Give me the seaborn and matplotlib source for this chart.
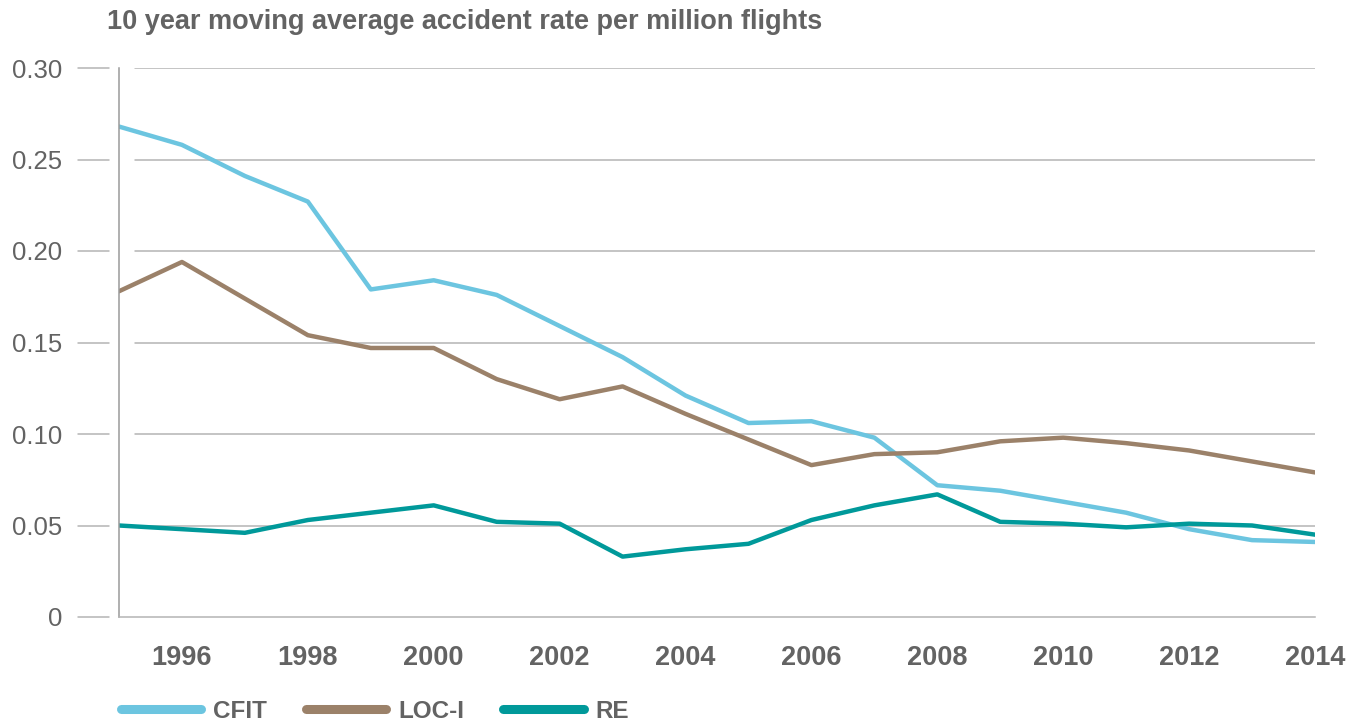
import matplotlib.pyplot as plt
import matplotlib.transforms as mtransforms
from matplotlib.lines import Line2D
import seaborn as sns
import pandas as pd

# Data
years = list(range(1995, 2015))
cfit = [0.268, 0.258, 0.241, 0.227, 0.179, 0.184, 0.176, 0.159, 0.142, 0.121,
        0.106, 0.107, 0.098, 0.072, 0.069, 0.063, 0.057, 0.048, 0.042, 0.041]
loc_i = [0.178, 0.194, 0.174, 0.154, 0.147, 0.147, 0.130, 0.119, 0.126, 0.111,
         0.097, 0.083, 0.089, 0.090, 0.096, 0.098, 0.095, 0.091, 0.085, 0.079]
re = [0.050, 0.048, 0.046, 0.053, 0.057, 0.061, 0.052, 0.051, 0.033, 0.037,
      0.040, 0.053, 0.061, 0.067, 0.052, 0.051, 0.049, 0.051, 0.050, 0.045]
series_names = ['CFIT', 'LOC-I', 'RE']
y_ticks = [0, 0.05, 0.10, 0.15, 0.20, 0.25, 0.30]
y_tick_labels = ['0', '0.05', '0.10', '0.15', '0.20', '0.25', '0.30']
x_label_years = list(range(1996, 2015, 2))
title = '10 year moving average accident rate per million flights'

colors = {'CFIT': '#6cc5e0', 'LOC-I': '#9b8169', 'RE': '#00999a'}
text_grey = '#636363'
grid_grey = '#b4b4b4'

df = pd.DataFrame({'year': years * 3,
                   'rate': cfit + loc_i + re,
                   'series': [s for s in series_names for _ in years]})

sns.set_style('white')
plt.rcParams['font.family'] = ['Liberation Sans', 'DejaVu Sans']

fig = plt.figure(figsize=(13.61, 7.24), dpi=100)
ax = fig.add_axes([119 / 1361, 1 - 617 / 724, (1315 - 119) / 1361, (617 - 68) / 724])

sns.lineplot(data=df, x='year', y='rate', hue='series', palette=colors,
             linewidth=3.2, ax=ax, legend=False)

ax.set_xlim(1995, 2014)
ax.set_ylim(0, 0.30)

# horizontal grid lines, leaving a gap next to the y spine
for v in y_ticks[1:]:
    ax.axhline(v, xmin=0.0134, xmax=1, color=grid_grey, linewidth=1.1, zorder=0)

# short dashes left of the axis acting as y tick marks
trans = mtransforms.blended_transform_factory(ax.transAxes, ax.transData)
for v in y_ticks:
    ax.add_line(Line2D([-0.0343, -0.0084], [v, v], transform=trans,
                       color=grid_grey, linewidth=1.1, clip_on=False))

ax.set_yticks(y_ticks)
ax.set_yticklabels(y_tick_labels)
ax.tick_params(axis='y', length=0, pad=41, labelsize=18.5, labelcolor=text_grey)

ax.set_xticks(years, minor=True)
ax.set_xticks(x_label_years)
ax.set_xticklabels([str(y) for y in x_label_years], fontweight='bold')
ax.tick_params(axis='x', which='both', direction='out', length=9.5, width=1.1,
               color=grid_grey, labelsize=19.5, labelcolor=text_grey, pad=11)

for side in ['top', 'right']:
    ax.spines[side].set_visible(False)
ax.spines['left'].set_color('#9a9a9a')
ax.spines['bottom'].set_color(grid_grey)
ax.spines['left'].set_linewidth(1.1)
ax.spines['bottom'].set_linewidth(1.1)
ax.set_xlabel('')
ax.set_ylabel('')

fig.text(107 / 1361, 1 - 22 / 724, title, fontsize=19.5, fontweight='bold',
         color=text_grey, va='center', ha='left')

handles = [Line2D([0], [0], color=colors[s], linewidth=6.5, solid_capstyle='round')
           for s in series_names]
leg = fig.legend(handles, series_names, loc='center left',
                 bbox_to_anchor=(121 / 1361, 1 - 711 / 724), ncol=3, frameon=False,
                 borderpad=0, borderaxespad=0, handlelength=3.3, handletextpad=0.5,
                 columnspacing=1.6, prop={'size': 17.5, 'weight': 'bold'})
for t in leg.get_texts():
    t.set_color(text_grey)

fig.savefig('out.png', dpi=100)
